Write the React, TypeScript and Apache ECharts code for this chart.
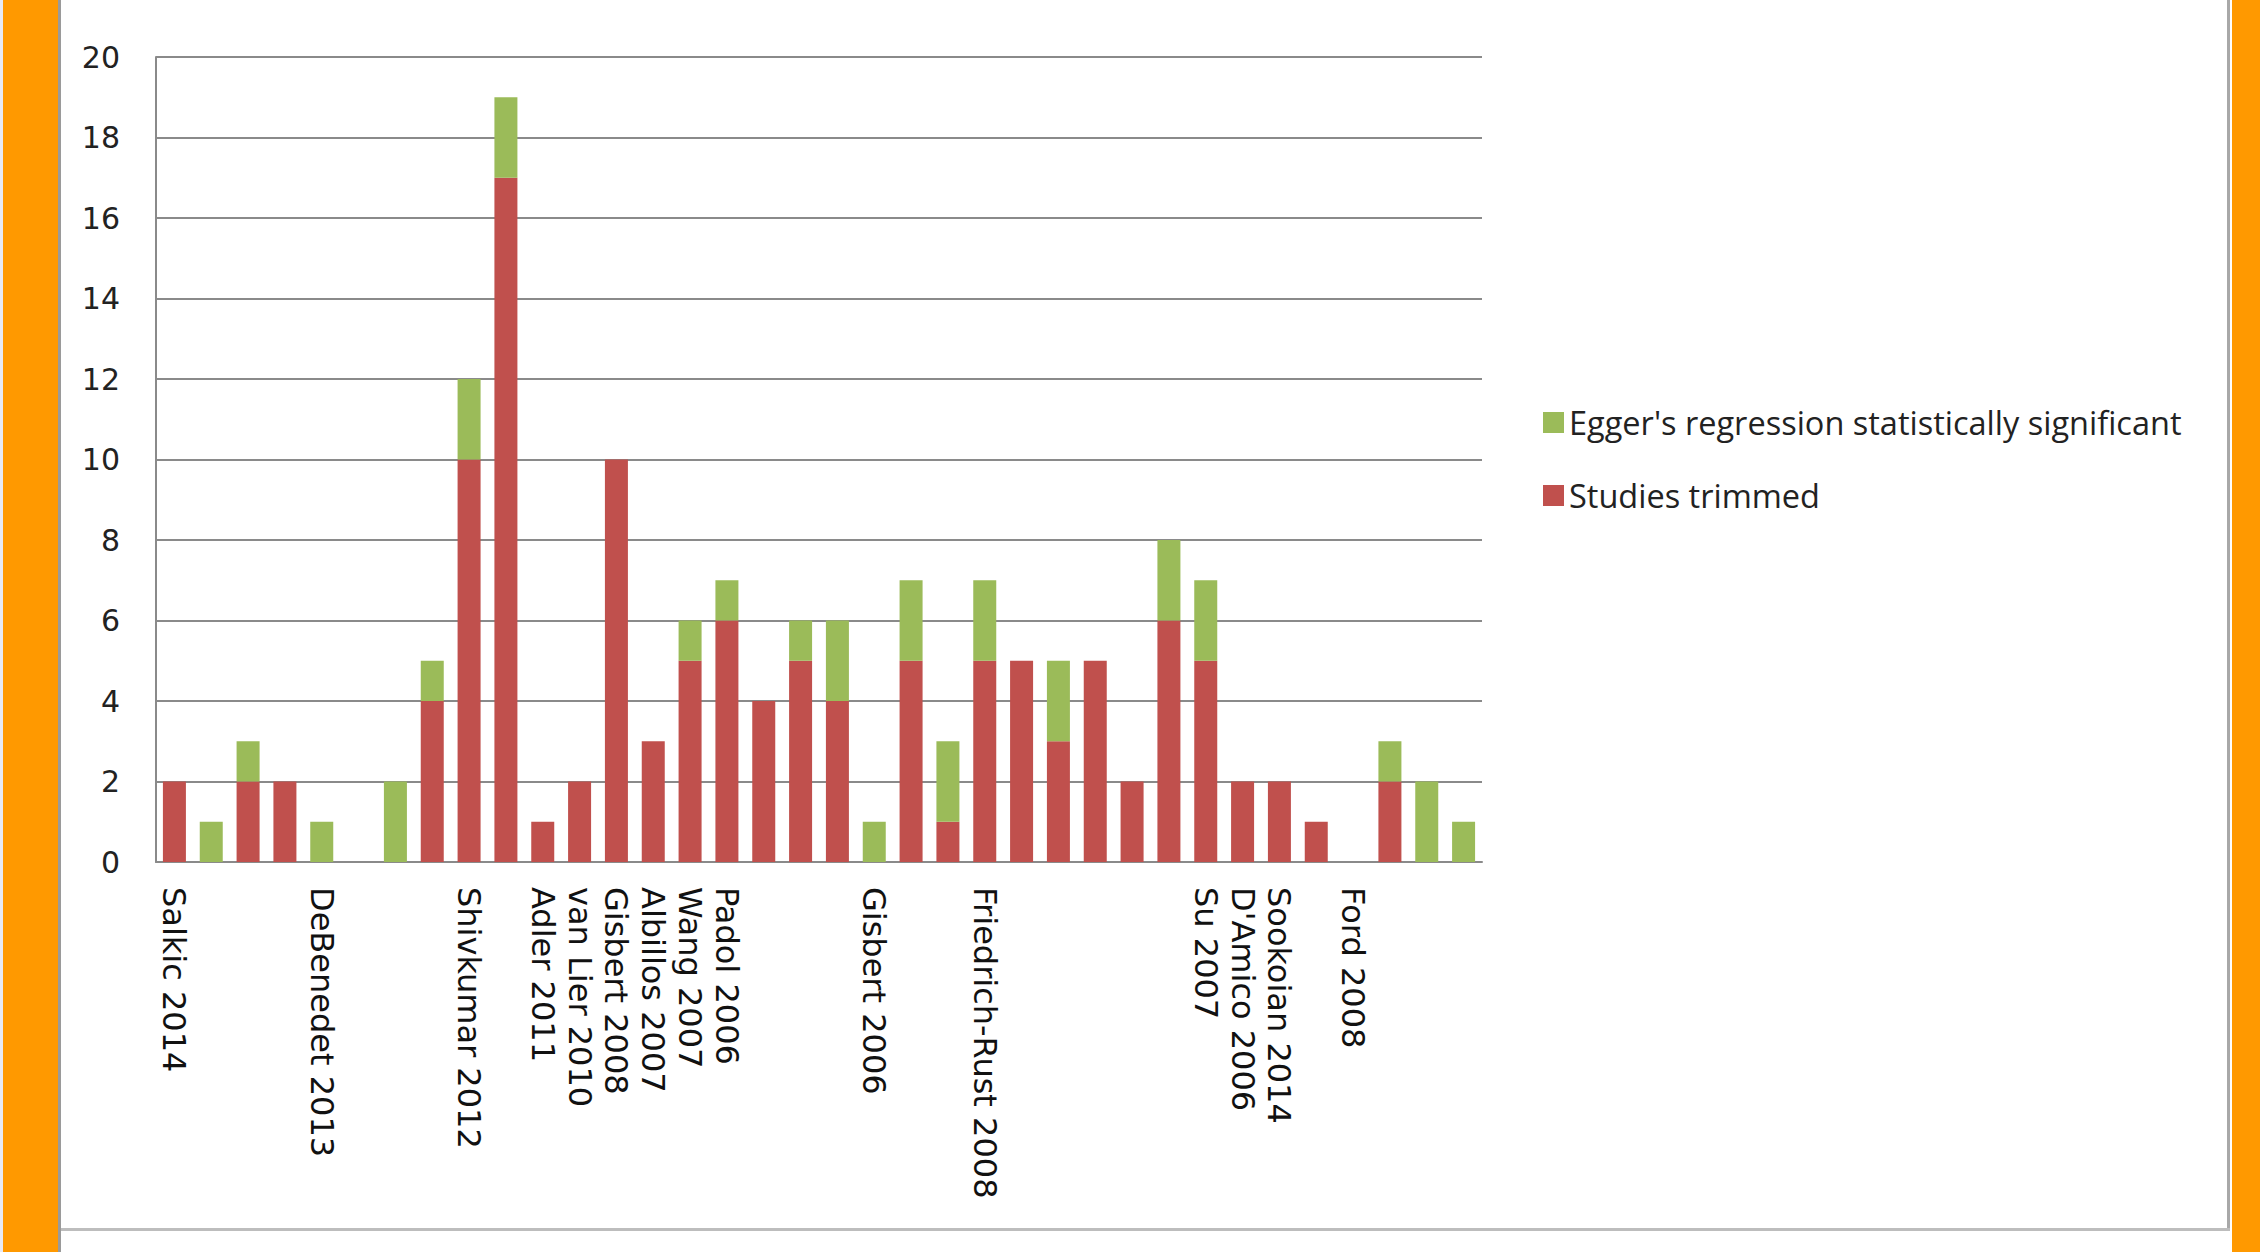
import React, { useEffect, useRef } from "react";
import * as echarts from "echarts";

const categories: string[] = [
  "Salkic 2014", "", "", "", "DeBenedet 2013", "", "", "", "Shivkumar 2012", "",
  "Adler 2011", "van Lier 2010", "Gisbert 2008", "Albillos 2007", "Wang 2007", "Padol 2006", "", "", "", "Gisbert 2006",
  "", "", "Friedrich-Rust 2008", "", "", "", "", "", "Su 2007", "D'Amico 2006",
  "Sookoian 2014", "", "Ford 2008", "", "", "",
];

const studiesTrimmed: number[] = [
  2, 0, 2, 2, 0, 0, 0, 4, 10, 17,
  1, 2, 10, 3, 5, 6, 4, 5, 4, 0,
  5, 1, 5, 5, 3, 5, 2, 6, 5, 2,
  2, 1, 0, 2, 0, 0,
];

const eggerSignificant: number[] = [
  0, 1, 1, 0, 1, 0, 2, 1, 2, 2,
  0, 0, 0, 0, 1, 1, 0, 1, 2, 1,
  2, 2, 2, 0, 2, 0, 0, 2, 2, 0,
  0, 0, 0, 1, 2, 1,
];

const seriesNames = ["Egger's regression statistically significant", "Studies trimmed"];

export default function App() {
  const ref = useRef<HTMLDivElement>(null);

  useEffect(() => {
    if (!ref.current) return;
    const chart = echarts.init(ref.current, undefined, { renderer: "svg" });
    const gray = "#8a8a8a";
    chart.setOption({
      animation: false,
      backgroundColor: "#ffffff",
      graphic: [
        { type: "rect", shape: { x: 0, y: 0, width: 3, height: 1252 }, style: { fill: "#e8eaf4" }, silent: true },
        { type: "rect", shape: { x: 3, y: 0, width: 55, height: 1252 }, style: { fill: "#ff9900" }, silent: true },
        { type: "rect", shape: { x: 58, y: 0, width: 3, height: 1252 }, style: { fill: "#9a9a9a" }, silent: true },
        { type: "rect", shape: { x: 2232, y: 0, width: 28, height: 1252 }, style: { fill: "#ff9900" }, silent: true },
        { type: "rect", shape: { x: 2227, y: 0, width: 3, height: 1231 }, style: { fill: "#a8a8a8" }, silent: true },
        { type: "rect", shape: { x: 61, y: 1228, width: 2169, height: 3 }, style: { fill: "#bdbdbd" }, silent: true },
      ],
      legend: {
        orient: "vertical",
        left: 1538,
        top: 401,
        itemWidth: 21,
        itemHeight: 21,
        itemGap: 40,
        icon: "rect",
        data: seriesNames,
        textStyle: { fontFamily: "Open Sans", fontSize: 32.5, color: "#222222", lineHeight: 30 },
      },
      grid: { left: 156, right: 778, top: 57, bottom: 390, containLabel: false },
      xAxis: {
        type: "category",
        data: categories,
        axisTick: { show: false },
        axisLine: { lineStyle: { color: gray, width: 2 } },
        axisLabel: {
          interval: 0,
          rotate: -90,
          margin: 25,
          fontFamily: "DejaVu Sans",
          fontSize: 32,
          color: "#111111",
        },
      },
      yAxis: {
        type: "value",
        min: 0,
        max: 20,
        interval: 2,
        axisLine: { show: true, lineStyle: { color: gray, width: 2 } },
        axisTick: { show: false },
        splitLine: { lineStyle: { color: gray, width: 2 } },
        axisLabel: { margin: 36, fontFamily: "DejaVu Sans", fontSize: 30, color: "#222222" },
      },
      series: [
        {
          name: "Studies trimmed",
          type: "bar",
          stack: "total",
          barWidth: 23,
          itemStyle: { color: "#c0504d" },
          data: studiesTrimmed,
        },
        {
          name: "Egger's regression statistically significant",
          type: "bar",
          stack: "total",
          barWidth: 23,
          itemStyle: { color: "#9bbb59" },
          data: eggerSignificant,
        },
      ],
    });
    return () => chart.dispose();
  }, []);

  return (
    <div
      ref={ref}
      style={{ position: "fixed", left: 0, top: 0, width: 2260, height: 1252 }}
    />
  );
}
